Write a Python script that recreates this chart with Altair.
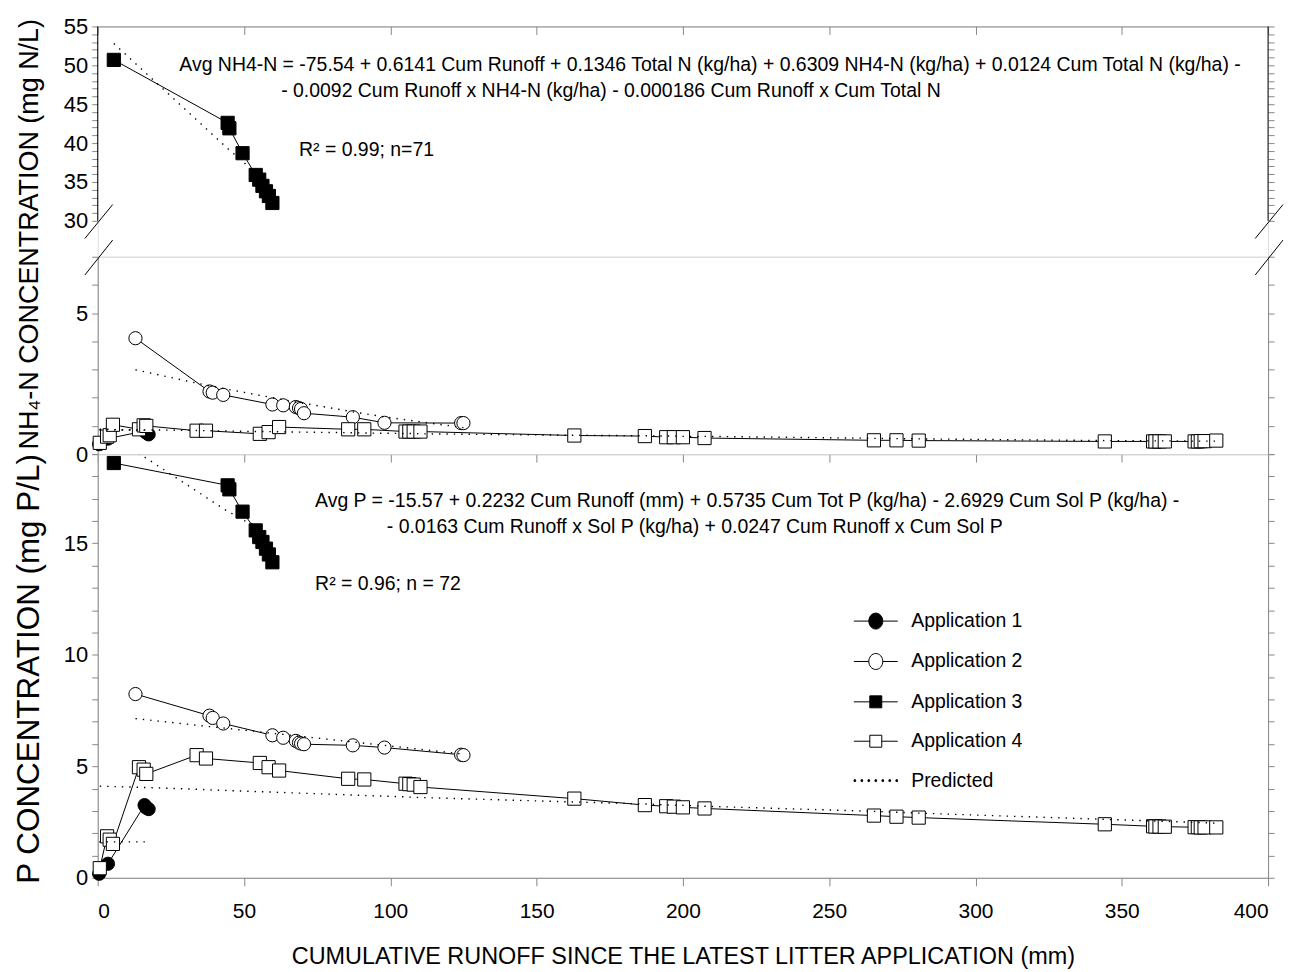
import altair as alt
import pandas as pd

FONT = "Liberation Sans"

APPS = ["Application 1", "Application 2", "Application 3", "Application 4"]

# ---------------- data ----------------
app1_x = [0.5, 3.5, 16.0, 16.6, 17.4]
app1_nh4 = [0.35, 0.55, 0.82, 0.76, 0.70]
app1_nh4_pred = [0.86, 0.86, 0.85, 0.85, 0.85]
app1_p = [0.18, 0.63, 3.26, 3.14, 3.08]
app1_p_pred = [1.61, 1.61, 1.61, 1.61, 1.61]

app2_x = [12.9, 38.2, 39.3, 42.9, 59.7, 63.4, 67.7, 68.8, 69.5, 70.5, 87.2, 98.0, 124.2, 125.0]
app2_nh4 = [4.11, 2.22, 2.18, 2.10, 1.76, 1.73, 1.67, 1.63, 1.60, 1.45, 1.31, 1.11, 1.10, 1.10]
app2_nh4_pred = [2.99, 2.42, 2.40, 2.33, 2.00, 1.93, 1.85, 1.83, 1.82, 1.80, 1.50, 1.32, 0.95, 0.94]
app2_p = [8.24, 7.27, 7.17, 6.92, 6.39, 6.28, 6.14, 6.06, 6.02, 5.99, 5.94, 5.84, 5.52, 5.50]
app2_p_pred = [7.14, 6.78, 6.77, 6.72, 6.48, 6.43, 6.37, 6.35, 6.34, 6.33, 6.09, 5.94, 5.56, 5.55]

app3_x = [5.5, 44.4, 45.0, 49.5, 54.0, 55.2, 56.3, 57.5, 58.5, 59.7]
app3_nh4 = [50.7, 42.6, 41.9, 38.7, 35.9, 35.3, 34.5, 33.8, 33.2, 32.3]
app3_nh4_pred = [52.8, 39.3, 39.1, 37.7, 36.0, 35.4, 34.8, 34.2, 33.6, 32.8]
app3_p = [18.6, 17.6, 17.42, 16.42, 15.58, 15.28, 15.06, 14.76, 14.5, 14.15]
app3_p_pred = [19.77, 16.43, 16.40, 16.05, 15.80, 15.60, 15.45, 15.30, 15.15, 15.00]

app4_x = [0.7, 3.2, 4.1, 5.2, 14.1, 15.7, 16.6, 33.8, 37.0, 55.4, 58.4, 62.0, 85.6, 91.1,
          105.2, 106.5, 108.0, 110.3, 162.9, 187.0, 194.3, 196.9, 200.0, 207.4, 265.3,
          273.0, 280.6, 344.2, 360.7, 361.5, 362.9, 364.7, 374.9, 376.0, 377.0, 378.3, 382.3]
app4_nh4 = [0.40, 0.62, 0.67, 1.04, 0.88, 1.02, 1.00, 0.83, 0.83, 0.72, 0.78, 0.96, 0.88, 0.88,
            0.80, 0.80, 0.80, 0.80, 0.66, 0.64, 0.60, 0.60, 0.60, 0.57, 0.49,
            0.49, 0.48, 0.45, 0.45, 0.45, 0.45, 0.45, 0.45, 0.45, 0.46, 0.46, 0.48]
app4_nh4_pred = [0.88, 0.88, 0.88, 0.87, 0.86, 0.86, 0.86, 0.84, 0.83, 0.80, 0.80, 0.79, 0.76, 0.75,
                 0.73, 0.73, 0.73, 0.72, 0.67, 0.65, 0.64, 0.64, 0.63, 0.63, 0.56,
                 0.55, 0.54, 0.48, 0.47, 0.47, 0.47, 0.47, 0.46, 0.46, 0.46, 0.46, 0.46]
app4_p = [0.43, 1.86, 1.71, 1.52, 4.96, 4.85, 4.66, 5.50, 5.35, 5.15, 4.96, 4.81, 4.44, 4.41,
          4.22, 4.20, 4.18, 4.07, 3.55, 3.26, 3.21, 3.19, 3.16, 3.11, 2.79,
          2.74, 2.70, 2.40, 2.31, 2.30, 2.30, 2.29, 2.27, 2.27, 2.26, 2.26, 2.26]
app4_p_pred = [4.11, 4.10, 4.10, 4.09, 4.06, 4.05, 4.05, 3.97, 3.95, 3.86, 3.85, 3.83, 3.72, 3.69,
               3.63, 3.62, 3.61, 3.60, 3.40, 3.31, 3.27, 3.26, 3.25, 3.21, 2.98,
               2.94, 2.90, 2.62, 2.55, 2.55, 2.54, 2.53, 2.49, 2.48, 2.48, 2.47, 2.45]

x_ticks = [0, 50, 100, 150, 200, 250, 300, 350, 400]

nh4_eq_1 = ("Avg NH4-N = -75.54 + 0.6141 Cum Runoff + 0.1346 Total N (kg/ha) + 0.6309 NH4-N (kg/ha)"
            " + 0.0124 Cum Total N (kg/ha) -")
nh4_eq_2 = "- 0.0092 Cum Runoff x NH4-N (kg/ha) - 0.000186 Cum Runoff x Cum Total N"
nh4_r2 = "R\u00b2 = 0.99; n=71"
p_eq_1 = "Avg P = -15.57 + 0.2232 Cum Runoff (mm) + 0.5735 Cum Tot P (kg/ha) - 2.6929 Cum Sol P (kg/ha) -"
p_eq_2 = "- 0.0163 Cum Runoff x Sol P (kg/ha) + 0.0247 Cum Runoff x Cum Sol P"
p_r2 = "R\u00b2 = 0.96; n = 72"

# ---------------- tables ----------------
rows = []
for name, xs, a, ap, b, bp in [
    (APPS[0], app1_x, app1_nh4, app1_nh4_pred, app1_p, app1_p_pred),
    (APPS[1], app2_x, app2_nh4, app2_nh4_pred, app2_p, app2_p_pred),
    (APPS[2], app3_x, app3_nh4, app3_nh4_pred, app3_p, app3_p_pred),
    (APPS[3], app4_x, app4_nh4, app4_nh4_pred, app4_p, app4_p_pred),
]:
    for i in range(len(xs)):
        rows.append({"app": name, "x": xs[i], "nh4": a[i], "nh4_pred": ap[i],
                     "p": b[i], "p_pred": bp[i]})
df = pd.DataFrame(rows)
df_top = df[df["app"] == APPS[2]]
df_mid = df[df["app"] != APPS[2]]

ann_top = pd.DataFrame({"tx": [27.9, 62.7, 68.8], "ty": [50.05, 46.7, 39.15],
                        "label": [nh4_eq_1, nh4_eq_2, nh4_r2]})
ann_bot = pd.DataFrame({"tx": [74.3, 98.8, 74.3], "ty": [16.88, 15.72, 13.18],
                        "label": [p_eq_1, p_eq_2, p_r2]})

# axis-break slashes and the broken y-axis lines of the upper segment (data units)
brk_top = pd.DataFrame({"x": [-4.4, 395.6, 0, 400], "x2": [5.1, 405.1, 0, 400],
                        "y": [27.73, 27.73, 30, 30], "y2": [32.09, 32.09, 55, 55]})
brk_mid = pd.DataFrame({"x": [-4.4, 395.6], "x2": [5.1, 405.1], "y": [6.35, 6.35], "y2": [7.59, 7.59]})

# ---------------- geometry ----------------
W = 1174
GAP = 36
HA, HB, HC = 195 + GAP, 198, 425
XDOM = [0, 400]
YA = [30 - GAP / 7.8, 55]
YB = [0, 7]
YC = [0, 19]

LBL = 22
TICK = 6


def xenc(field, axis):
    return alt.X(f"{field}:Q", scale=alt.Scale(domain=XDOM, nice=False, zero=False), axis=axis)


def yenc(field, dom, axis=None):
    return alt.Y(f"{field}:Q", scale=alt.Scale(domain=dom, nice=False, zero=False), axis=axis)


def left_axis(lo, hi, **kw):
    return alt.Axis(orient="left", values=list(range(lo, hi + 1)),
                    labelExpr="datum.value % 5 == 0 ? datum.label : ''",
                    tickSize=TICK, labelFontSize=LBL, labelPadding=4, grid=False,
                    titleFontWeight="normal", **kw)


def right_axis(lo, hi, domain=True):
    return alt.Axis(orient="right", values=list(range(lo, hi + 1)), labels=False,
                    tickSize=TICK, grid=False, title=None, domain=domain)


shape_scale = alt.Scale(domain=APPS, range=["circle", "circle", "square", "square"])
fill_scale = alt.Scale(domain=APPS, range=["black", "white", "black", "white"])


def panel(data, yfield, predfield, ydom, xaxis, laxis, raxis, h, ann=None, brk=None,
          legend=False, clip_pred=False):
    lines = alt.Chart(data).mark_line(color="black", strokeWidth=1).encode(
        x=xenc("x", xaxis), y=yenc(yfield, ydom, laxis), detail="app:N")
    pts = alt.Chart(data).mark_point(filled=True, stroke="black", strokeWidth=1, size=175,
                                     opacity=1, fillOpacity=1).encode(
        x=xenc("x", xaxis), y=yenc(yfield, ydom),
        shape=alt.Shape("app:N", scale=shape_scale, legend=None),
        fill=alt.Fill("app:N", scale=fill_scale, legend=None))
    pred = alt.Chart(data).mark_line(color="black", strokeWidth=1.4, strokeDash=[1.4, 6],
                                     clip=clip_pred).encode(
        x=xenc("x", xaxis), y=yenc(predfield, ydom), detail="app:N")
    layers = [lines, pts, pred]
    if ann is not None:
        layers.append(alt.Chart(ann).mark_text(align="left", baseline="middle", font=FONT,
                                               fontSize=19.5, color="black").encode(
            x=xenc("tx", xaxis), y=yenc("ty", ydom), text="label:N"))
    if brk is not None:
        layers.append(alt.Chart(brk).mark_rule(color="black", strokeWidth=1).encode(
            x=xenc("x", xaxis), x2=alt.X2("x2:Q"), y=yenc("y", ydom), y2=alt.Y2("y2:Q")))
    if legend:
        names = APPS + ["Predicted"]
        p_circ = "M-2.2,0L-0.7,0M0.7,0L2.2,0M0.7,0A0.7,0.8,0,1,1,-0.7,0A0.7,0.8,0,1,1,0.7,0Z"
        p_sq = "M-2.2,0L-0.6,0M0.6,0L2.2,0M-0.6,-0.6L0.6,-0.6L0.6,0.6L-0.6,0.6Z"
        dots = "".join(f"M{c - 0.08:.2f},-0.08h0.16v0.16h-0.16Z" for c in [-2.1, -1.4, -0.7, 0, 0.7, 1.4, 2.1])
        leg = alt.Legend(title=None, orient="none", legendX=770, legendY=157,
                         labelFont=FONT, labelFontSize=19.5, labelColor="black",
                         symbolSize=400, symbolStrokeColor="black", symbolStrokeWidth=1,
                         symbolOpacity=1, rowPadding=19.5, labelOffset=25, labelLimit=300)
        layers.append(alt.Chart(data).transform_filter("false").mark_point(
            filled=True, strokeWidth=1).encode(
            x=xenc("x", xaxis), y=yenc(yfield, ydom),
            shape=alt.Shape("app:N", scale=alt.Scale(domain=names,
                                                     range=[p_circ, p_circ, p_sq, p_sq, dots]),
                            legend=leg),
            fill=alt.Fill("app:N", scale=alt.Scale(domain=names,
                                                   range=["black", "white", "black", "white", "black"]),
                          legend=leg),
            stroke=alt.Stroke("app:N", scale=alt.Scale(domain=names,
                                                       range=["black"] * 5),
                              legend=leg)))
    # right-hand axis
    layers.append(alt.Chart(data).mark_line(opacity=0).encode(
        x=xenc("x", xaxis), y=yenc(yfield, ydom, raxis), detail="app:N"))
    ch = alt.layer(*layers).resolve_scale(y="independent", shape="independent",
                                          fill="independent", stroke="independent")
    return ch.properties(width=W, height=h)


xaxis_top = alt.Axis(orient="bottom", offset=-HA, values=x_ticks, labels=False, tickSize=8,
                     grid=False, title=None)
xaxis_mid = alt.Axis(orient="bottom", values=x_ticks, labels=False, tickSize=8, grid=False, title=None)
xaxis_bot = alt.Axis(orient="bottom", values=x_ticks, tickSize=8, labelFontSize=21, labelPadding=15,
                     grid=False, title="CUMULATIVE RUNOFF SINCE THE LATEST LITTER APPLICATION (mm)",
                     titleFontSize=23.5, titleFontWeight="normal", titleY=86,
                     titleBaseline="alphabetic")

A = panel(df_top, "nh4", "nh4_pred", YA, xaxis_top,
          left_axis(30, 55, title=None, domain=False),
          right_axis(30, 55, domain=False), HA, ann=ann_top, brk=brk_top)
B = panel(df_mid, "nh4", "nh4_pred", YB, xaxis_mid,
          left_axis(0, 7, title="NH\u2084-N CONCENTRATION (mg N/L)", titleFontSize=27,
                    titleX=-68, titleY=-23, titleAngle=270, titleAlign="center",
                    titleBaseline="middle"),
          right_axis(0, 7), HB, brk=brk_mid)
C = panel(df, "p", "p_pred", YC, xaxis_bot,
          left_axis(0, 19, title="P CONCENTRATION (mg P/L)", titleFontSize=31.5,
                    titleX=-68, titleY=215, titleAngle=270, titleAlign="center",
                    titleBaseline="middle"),
          right_axis(0, 19), HC, ann=ann_bot, legend=True, clip_pred=True)

chart = alt.vconcat(A, B, C, spacing=0, bounds="flush").configure_view(stroke=None).configure_axis(
    domainColor="black", tickColor="black", labelColor="black", titleColor="black",
    labelFont=FONT, titleFont=FONT, titleFontWeight="normal", domainWidth=1, tickWidth=1
).configure(background="white")

chart.save("out.html", embed_options={"renderer": "svg", "actions": False})
